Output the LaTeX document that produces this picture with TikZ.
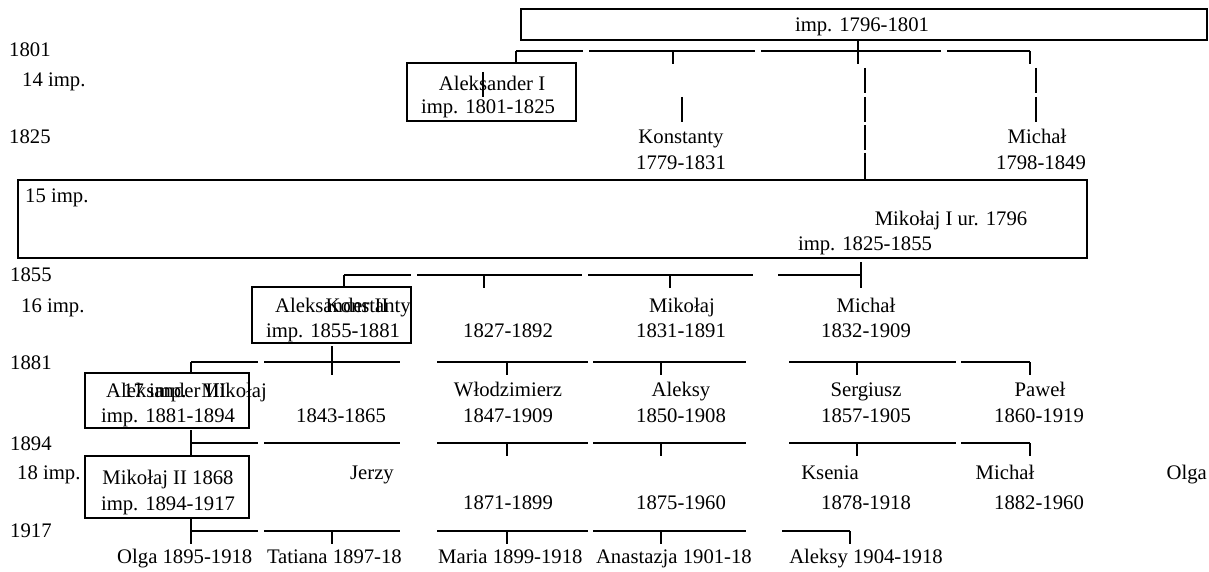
\documentclass[tikz,border=0pt]{standalone}
\usepackage{fontspec}
\setmainfont{Liberation Serif}
\begin{document}
\begin{tikzpicture}[x=1pt,y=-1pt,
  lbl/.style={inner sep=0pt,text height=14pt,text depth=0pt,font=\fontsize{20.7}{24}\selectfont},
  frame/.style={line width=2pt},
  conn/.style={line width=1.3pt},
  bar/.style={line width=1.7pt}]
\useasboundingbox (0,0) rectangle (1209,572);
\draw[frame] (521,9) rectangle (1207,40);
\draw[frame] (407,63) rectangle (576,121);
\draw[frame] (18,180) rectangle (1087,258);
\draw[frame] (252,287) rectangle (411,343);
\draw[frame] (85,373) rectangle (249,428);
\draw[frame] (85,456) rectangle (249,518);
\node[lbl] (pawel) at (862,25) {imp. 1796-1801};
\node[lbl,anchor=west] (y1801) at (9,50) {1801};
\node[lbl,anchor=west] (imp14) at (22,80) {14 imp.};
\node[lbl,anchor=west] (y1825) at (9,137) {1825};
\node[lbl,anchor=west] (imp15) at (25,195) {15 imp.};
\node[lbl,anchor=west] (y1855) at (10,274) {1855};
\node[lbl,anchor=west] (imp16) at (21,305) {16 imp.};
\node[lbl,anchor=west] (y1881) at (10,362) {1881};
\node[lbl,anchor=west] (y1894) at (10,443) {1894};
\node[lbl,anchor=west] (imp18) at (17,472) {18 imp.};
\node[lbl,anchor=west] (y1917) at (10,530) {1917};
\node[lbl] (alekI) at (492,84) {Aleksander I};
\node[lbl] (alekIimp) at (488,107) {imp. 1801-1825};
\node[lbl] (konst) at (681,137) {Konstanty};
\node[lbl] (konstd) at (681,163) {1779-1831};
\node[lbl] (michal) at (1037,137) {Michał};
\node[lbl] (michald) at (1041,163) {1798-1849};
\node[lbl] (mikI) at (951,218) {Mikołaj I ur. 1796};
\node[lbl] (mikIimp) at (865,243) {imp. 1825-1855};
\node[lbl,anchor=west] (alekII) at (275,305) {Aleksander II};
\node[lbl,anchor=east] (konstII) at (411,305) {Konstanty};
\node[lbl] (alekIIimp) at (333,330) {imp. 1855-1881};
\node[lbl] (konstIId) at (508,330) {1827-1892};
\node[lbl] (mik) at (682,305) {Mikołaj};
\node[lbl] (mikd) at (681,330) {1831-1891};
\node[lbl] (michII) at (866,305) {Michał};
\node[lbl] (michIId) at (866,330) {1832-1909};
\node[lbl,anchor=west] (alekIII) at (106,390) {Aleksander III};
\node[lbl,anchor=west] (imp17) at (123,390) {17 imp.};
\node[lbl,anchor=east] (mikIII) at (267,390) {Mikołaj};
\node[lbl] (alekIIIimp) at (168,415) {imp. 1881-1894};
\node[lbl] (mikIIId) at (341,415) {1843-1865};
\node[lbl] (wlodz) at (508,389) {Włodzimierz};
\node[lbl] (wlodzd) at (508,415) {1847-1909};
\node[lbl] (aleksy) at (681,389) {Aleksy};
\node[lbl] (aleksyd) at (681,415) {1850-1908};
\node[lbl] (serg) at (866,389) {Sergiusz};
\node[lbl] (sergd) at (866,415) {1857-1905};
\node[lbl] (pawelII) at (1040,389) {Paweł};
\node[lbl] (pawelIId) at (1039,415) {1860-1919};
\node[lbl] (mikII) at (168,477) {Mikołaj II 1868};
\node[lbl] (mikIIimp) at (168,503) {imp. 1894-1917};
\node[lbl] (jerzy) at (372,472) {Jerzy};
\node[lbl] (jerzyd) at (508,502) {1871-1899};
\node[lbl] (xeniad0) at (681,502) {1875-1960};
\node[lbl] (ksenia) at (830,472) {Ksenia};
\node[lbl] (kseniad) at (866,502) {1878-1918};
\node[lbl] (michIII) at (1005,472) {Michał};
\node[lbl] (michIIId) at (1039,502) {1882-1960};
\node[lbl,anchor=east] (olgaI) at (1207,472) {Olga};
\node[lbl,anchor=west] (olga) at (117,556) {Olga 1895-1918};
\node[lbl,anchor=east] (tatiana) at (402,556) {Tatiana 1897-18};
\node[lbl,anchor=west] (maria) at (438,556) {Maria 1899-1918};
\node[lbl,anchor=east] (anast) at (752,556) {Anastazja 1901-18};
\node[lbl] (aleksyII) at (866,556) {Aleksy 1904-1918};
\foreach \a/\b in {516/583,589/755,761/941,947/1030}
  \draw[conn] (\a,51) -- (\b,51);
\draw[conn] (516,51) -- (516,64);
\draw[conn] (1030,51) -- (1030,64);
\draw[conn] (673,51) -- (673,64);
\draw[conn] (858,40) -- (858,64);
\foreach \a/\b in {68/93,97/122,125/150,153/179}
  \draw[bar] (865,\a) -- (865,\b);
\foreach \a/\b in {68/93,97/122}
  \draw[bar] (1036,\a) -- (1036,\b);
\draw[bar] (483,72) -- (483,97);
\draw[bar] (682,97) -- (682,122);
\foreach \a/\b in {344/411,417/582,588/753,778/861}
  \draw[conn] (\a,275) -- (\b,275);
\draw[conn] (344,275) -- (344,287);
\draw[conn] (484,275) -- (484,288);
\draw[conn] (670,275) -- (670,288);
\draw[conn] (861,262) -- (861,288);
\foreach \r in {362,443}{
  \foreach \a/\b in {191/258,264/400,437/588,593/746,789/956,961/1030}
    \draw[conn] (\a,\r) -- (\b,\r);
  \foreach \t in {507,661,857,1030}
    \draw[conn] (\t,\r) -- (\t,\r+13);
}
\draw[conn] (191,362) -- (191,373);
\draw[conn] (332,346) -- (332,375);
\draw[conn] (191,430) -- (191,456);
\foreach \a/\b in {191/258,264/400,437/588,593/746,782/850}
  \draw[conn] (\a,531) -- (\b,531);
\draw[conn] (191,519) -- (191,544);
\foreach \t in {332,507,661,850}
  \draw[conn] (\t,531) -- (\t,544);
\end{tikzpicture}
\end{document}
